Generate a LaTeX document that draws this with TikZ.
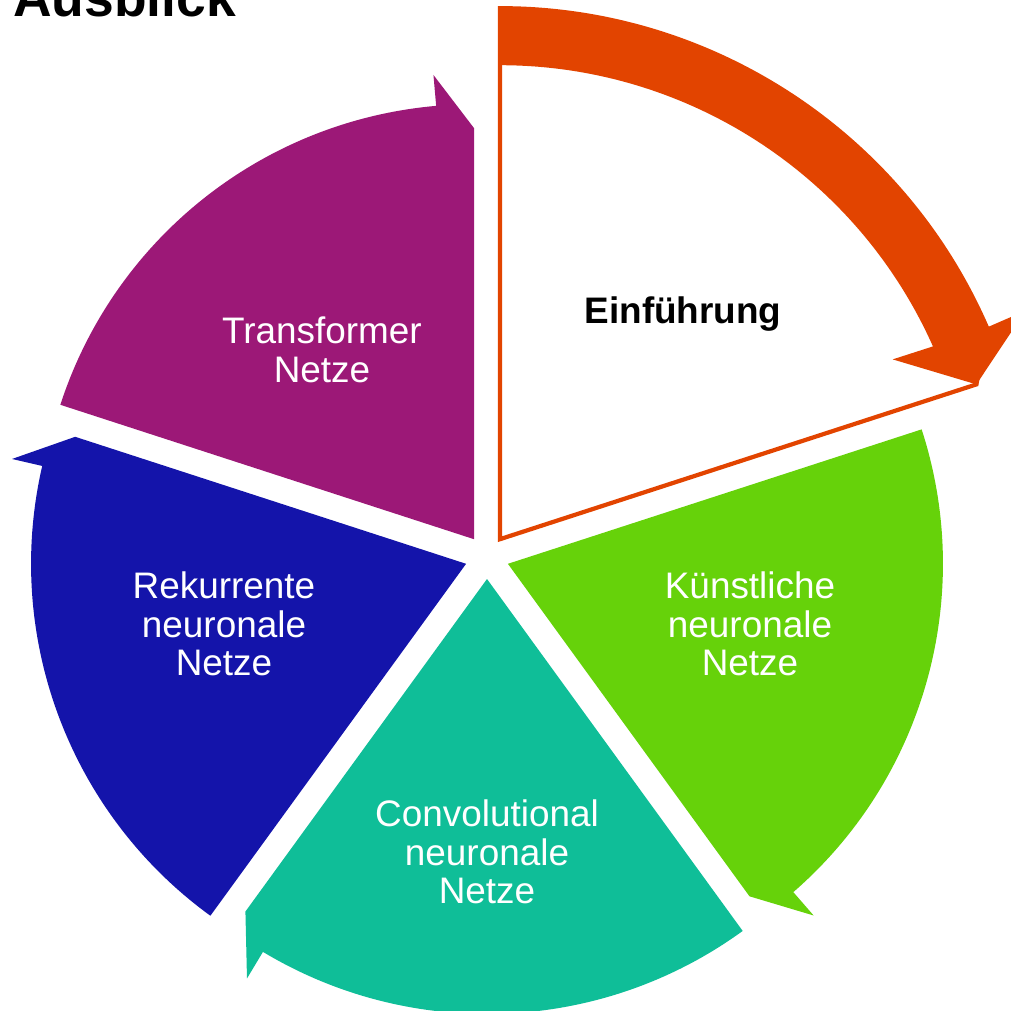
\documentclass[tikz,border=0pt]{standalone}
\usepackage{fontspec}
\setmainfont{Liberation Sans}
\definecolor{orangerot}{HTML}{E24400}
\definecolor{lila}{HTML}{9C1877}
\definecolor{blau}{HTML}{1414AA}
\definecolor{tuerkis}{HTML}{0FBE98}
\definecolor{gruen}{HTML}{66D20A}
\begin{document}
\begin{tikzpicture}[teksti/.style={text=white,align=center,font=\fontsize{10.5}{11}\selectfont}]
\useasboundingbox (-4.87,-4.53) rectangle (5.24,5.57);
\newcommand\sektor[2]{
\begin{scope}[shift={(#1-36:0.22)}]
\fill[#2] (0,0) -- (#1:4.35) arc[start angle=#1, end angle=#1-67, radius=4.35]
  -- (#1-67:4.66) -- (#1-72:4.11) -- cycle;
\end{scope}
}
\sektor{18}{gruen}
\sektor{-54}{tuerkis}
\sektor{-126}{blau}
\sektor{162}{lila}
% hervorgehobenes Segment mit Pfeilband
\begin{scope}[shift={(54:0.22)}]
\path[draw=orangerot,line width=1.2pt,fill=white] (0,0) -- (90:5.31)
  arc[start angle=90, end angle=23.5, radius=5.31] -- (18:5.01) -- cycle;
\path[fill=orangerot] (90:5.31) arc[start angle=90, end angle=23.5, radius=5.31]
  -- (23.5:5.73) -- (18:5.01) -- (24.6:4.32) -- (24:4.74)
  arc[start angle=24, end angle=90, radius=4.74] -- cycle;
\end{scope}
\node[teksti] (1) at (1.96,2.43) {\textcolor{black}{\bfseries Einführung}};
\node[teksti] (2) at (2.63,-0.67) {Künstliche\\neuronale\\Netze};
\node[teksti] (3) at (0,-2.95) {Convolutional\\neuronale\\Netze};
\node[teksti] (4) at (-2.63,-0.67) {Rekurrente\\neuronale\\Netze};
\node[teksti] (5) at (-1.65,2.075) {Transformer\\Netze};
\node[anchor=base west,font=\fontsize{15.2}{18}\selectfont\bfseries] (titel) at (-4.86,5.40) {Ausblick};
\end{tikzpicture}
\end{document}
